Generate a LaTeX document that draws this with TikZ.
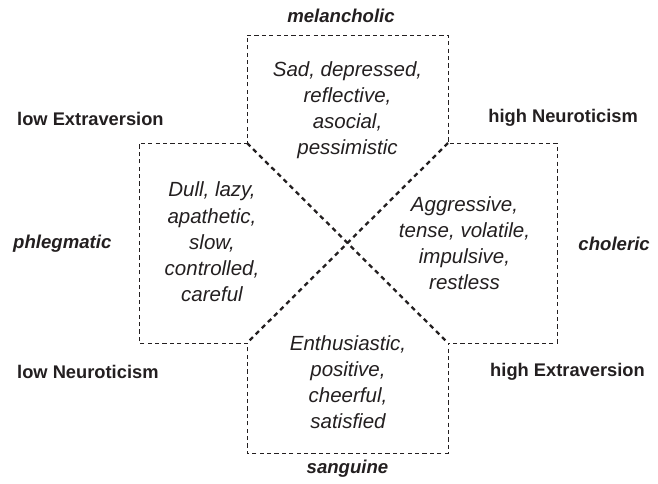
\documentclass[tikz,border=0pt]{standalone}
\usepackage{fontspec}
\setmainfont{Liberation Sans}
\begin{document}
\definecolor{ink}{HTML}{231F20}
\begin{tikzpicture}[x=1pt,y=-1pt,
  trait/.style={font=\itshape\fontsize{20.5}{26.2}\selectfont, align=center, text=ink, inner sep=0pt},
  temper/.style={font=\bfseries\itshape\fontsize{18.6}{22}\selectfont, text=ink, inner sep=0pt},
  axis/.style={font=\bfseries\fontsize{18.3}{22}\selectfont, text=ink, inner sep=0pt},
  outline/.style={draw=ink, line width=1pt, dash pattern=on 4.2pt off 3.2pt},
  divider/.style={draw=ink, line width=2.3pt, dash pattern=on 4.6pt off 4pt}]
\useasboundingbox (0,0) rectangle (658,483);

% inner corners of the cross
\coordinate (tl) at (247,143);
\coordinate (tr) at (448,143);
\coordinate (bl) at (247,343);
\coordinate (br) at (448,343);

% cross-shaped dashed outline
\draw[outline] (247,35) -- (448,35) -- (tr) -- (557,143) -- (557,343)
  -- (br) -- (448,453) -- (247,453) -- (bl) -- (139,343) -- (139,143)
  -- (tl) -- cycle;

% diagonal dividers
\draw[divider] (tl) -- (br);
\draw[divider] (tr) -- (bl);

% trait descriptions
\node[trait] (mel) at (347.5,110) {Sad, depressed,\\reflective,\\asocial,\\pessimistic};
\node[trait] (phl) at (212,242) {Dull, lazy,\\apathetic,\\slow,\\controlled,\\careful};
\node[trait] (cho) at (464.5,243) {Aggressive,\\tense, volatile,\\impulsive,\\restless};
\node[trait] (san) at (348,382) {Enthusiastic,\\positive,\\cheerful,\\satisfied};

% temperament names
\node[temper] (tmel) at (341,16) {melancholic};
\node[temper, anchor=west] (tphl) at (13,244) {phlegmatic};
\node[temper, anchor=east] (tcho) at (650,244) {choleric};
\node[temper] (tsan) at (347.5,469) {sanguine};

% dimension labels
\node[axis, anchor=west] (lowE) at (17,119) {low Extraversion};
\node[axis, anchor=east] (highN) at (638,118) {high Neuroticism};
\node[axis, anchor=west] (lowN) at (17,372) {low Neuroticism};
\node[axis, anchor=east] (highE) at (645,372) {high Extraversion};
\end{tikzpicture}
\end{document}
